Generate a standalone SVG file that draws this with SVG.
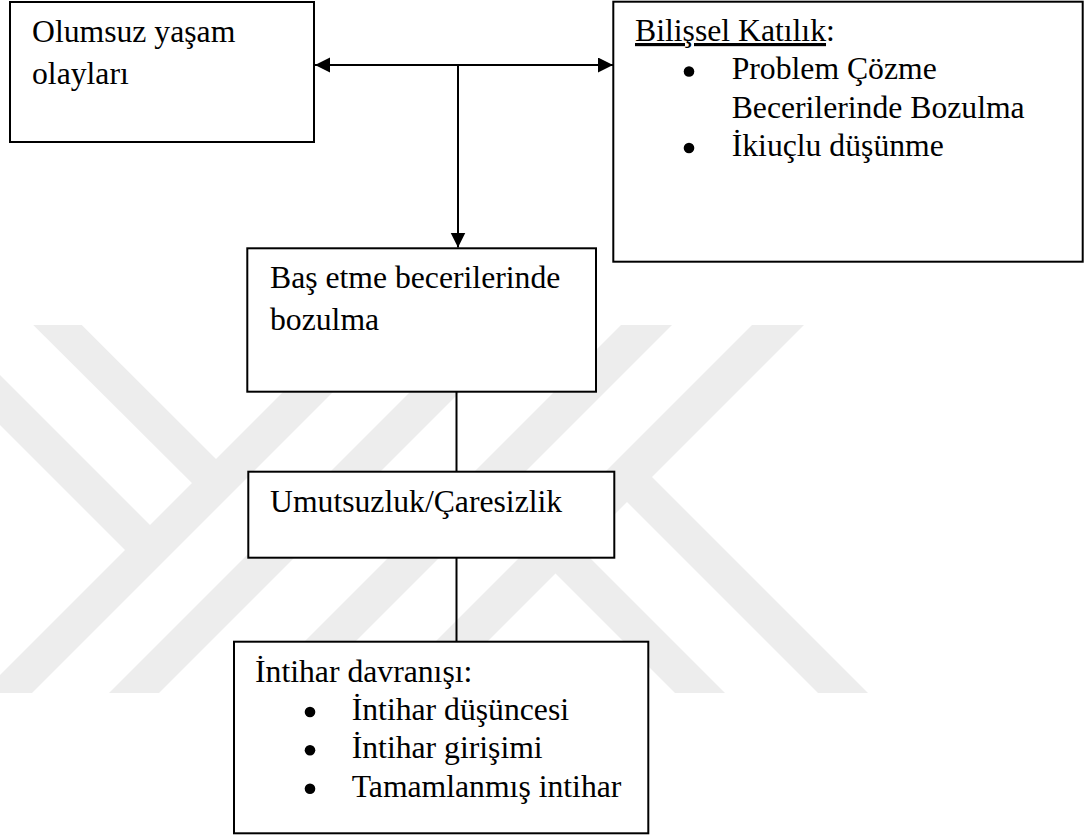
<svg xmlns="http://www.w3.org/2000/svg" width="1091" height="837" viewBox="0 0 1091 837">
<style>
.box{fill:#ffffff;stroke:#000000;stroke-width:2}
.t{font-size:31.7px;fill:#000000}
.wm{fill:#ededed}
.ln{stroke:#000000;stroke-width:2;fill:none}
.dot{fill:#000000}
</style>
<defs>
<marker id="ah" markerUnits="userSpaceOnUse" markerWidth="16" markerHeight="16" refX="15" refY="7.5" orient="auto-start-reverse">
<path d="M0,0 L15,7.5 L0,15 z" fill="#000000"/>
</marker>
</defs>
<rect width="1091" height="837" fill="#ffffff"/>
<g id="watermark">
<polygon class="wm" points="350,325 400,325 32,693 -18,693"/>
<polygon class="wm" points="477,325 527,325 159,693 109,693"/>
<polygon class="wm" points="621,325 672,325 304,693 253,693"/>
<polygon class="wm" points="752,325 804,325 436,693 384,693"/>
<polygon class="wm" points="33.3,325 81.7,325 228,471 204,495"/>
<polygon class="wm" points="-100,325 -50,325 162,537 137,562"/>
<polygon class="wm" points="544,562 569,537 725,693 675,693"/>
<polygon class="wm" points="615,490 640,465 868,693 818,693"/>
</g>
<g id="connectors">
<line class="ln" x1="315" y1="65" x2="613" y2="65" marker-start="url(#ah)" marker-end="url(#ah)"/>
<line class="ln" x1="458" y1="65" x2="458" y2="247.5" marker-end="url(#ah)"/>
<line class="ln" x1="456.5" y1="391.7" x2="456.5" y2="471.7"/>
<line class="ln" x1="456.5" y1="557.7" x2="456.5" y2="641.7"/>
</g>
<g font-family="'Liberation Serif', 'Times New Roman', serif">
<g id="node-olumsuz">
<rect class="box" x="10" y="2" width="304" height="140"/>
<text class="t" x="32" y="42">Olumsuz yaşam</text>
<text class="t" x="32" y="83.5">olayları</text>
</g>
<g id="node-bilissel">
<rect class="box" x="613.3" y="1.7" width="469.4" height="260"/>
<text class="t" x="635" y="41"><tspan text-decoration="underline">Bilişsel Katılık</tspan>:</text>
<circle class="dot" cx="689" cy="71.5" r="5.3"/>
<text class="t" x="731.7" y="79.3">Problem Çözme</text>
<text class="t" x="731.7" y="117.6">Becerilerinde Bozulma</text>
<circle class="dot" cx="689" cy="148" r="5.3"/>
<text class="t" x="731.7" y="156">İkiuçlu düşünme</text>
</g>
<g id="node-basetme">
<rect class="box" x="247.3" y="248.3" width="348.7" height="143.4"/>
<text class="t" x="270" y="288.3">Baş etme becerilerinde</text>
<text class="t" x="270" y="330">bozulma</text>
</g>
<g id="node-umutsuzluk">
<rect class="box" x="248.3" y="471.7" width="366" height="86"/>
<text class="t" x="270" y="511.7">Umutsuzluk/Çaresizlik</text>
</g>
<g id="node-intihar">
<rect class="box" x="234" y="641.7" width="414.3" height="191.6"/>
<text class="t" x="255" y="681.7">İntihar davranışı:</text>
<circle class="dot" cx="310" cy="712" r="5.3"/>
<text class="t" x="351.7" y="720">İntihar düşüncesi</text>
<circle class="dot" cx="310" cy="750.3" r="5.3"/>
<text class="t" x="351.7" y="758.3">İntihar girişimi</text>
<circle class="dot" cx="310" cy="788.7" r="5.3"/>
<text class="t" x="351.7" y="796.7">Tamamlanmış intihar</text>
</g>
</g>
</svg>
